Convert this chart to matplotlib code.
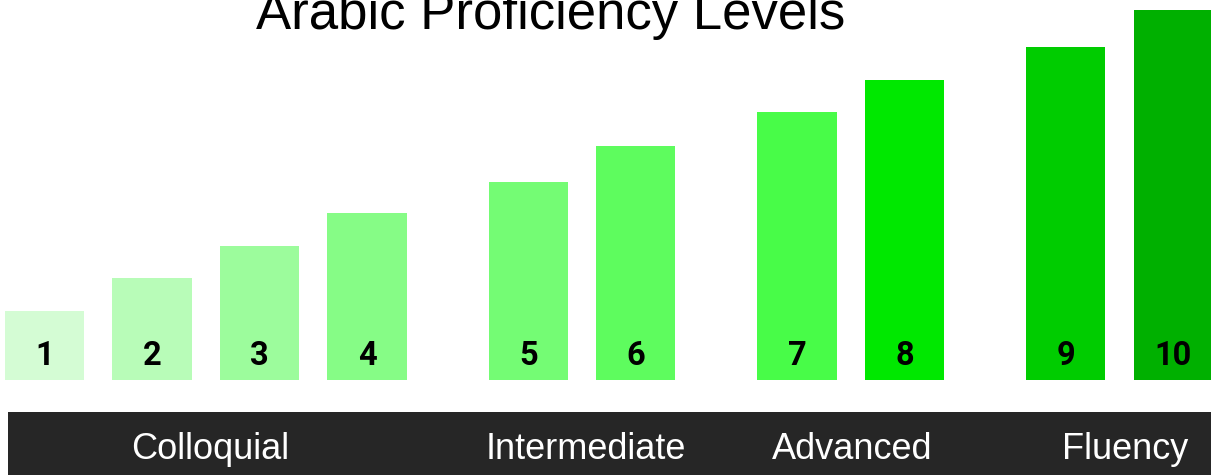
import matplotlib
matplotlib.use("Agg")
import matplotlib.pyplot as plt
from matplotlib.patches import Rectangle
import matplotlib.transforms as mtransforms

levels = ["1", "2", "3", "4", "5", "6", "7", "8", "9", "10"]
values = [2.05, 3.05, 4.0, 5.0, 5.9, 7.0, 8.0, 8.95, 9.95, 11.05]
positions = [0, 1, 2, 3, 4.5, 5.5, 7, 8, 9.5, 10.5]
colors = ["#d4fcd4", "#b8fcb8", "#9cfc9c", "#86fc86", "#74fc74",
          "#5efc5e", "#48fc48", "#00e800", "#00cc00", "#00b000"]
groups = ["Colloquial", "Intermediate", "Advanced", "Fluency"]
group_centers = [1.54, 5.04, 7.51, 10.05]
title = "Arabic Proficiency Levels"

W, H = 1211, 475
fig = plt.figure(figsize=(W / 100, H / 100), dpi=100)
fig.patch.set_facecolor("white")

ax = fig.add_axes([0, (H - 380) / H, 1, 380 / H])
ax.bar(positions, values, width=0.735, color=colors, linewidth=0)
px = 107.5
ax.set_xlim((0 - 44.5) / px, (W - 44.5) / px)
ax.set_ylim(0, 380 / 33.5)
ax.axis("off")

for p, lab in zip(positions, levels):
    ax.text(p, 15 / 33.5, lab, ha="center", va="baseline", fontsize=23.5,
            fontweight="bold", family=["Roboto", "DejaVu Sans"], color="black")

# bottom band
band = Rectangle((8 / W, 0), 1 - 8 / W, (H - 412) / H, transform=fig.transFigure,
                 facecolor="#262626", edgecolor="none", zorder=-1)
fig.patches.append(band)

trans = mtransforms.blended_transform_factory(ax.transData, fig.transFigure)
for c, g in zip(group_centers, groups):
    fig.text(c, (H - 458.7) / H, g, transform=trans, ha="center", va="baseline",
             fontsize=26, color="white", zorder=5,
             family=["Liberation Sans", "DejaVu Sans"])

fig.text(551 / W, (H - 29) / H, title, ha="center", va="baseline",
         fontsize=38, family=["Liberation Sans", "DejaVu Sans"], color="black")

fig.savefig("out.png", dpi=100)
